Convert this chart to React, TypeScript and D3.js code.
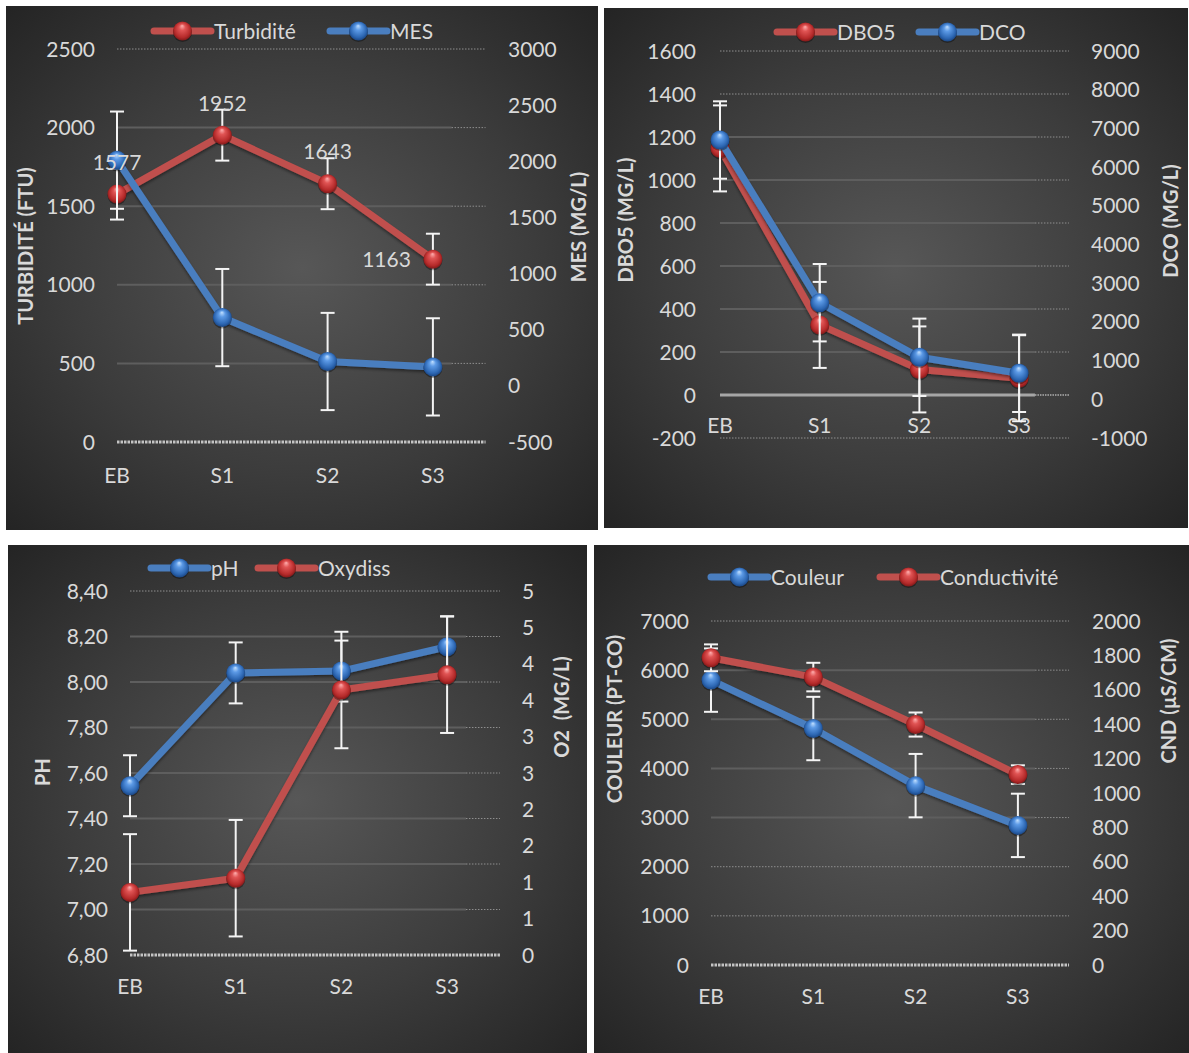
import React from "react";
import * as d3 from "d3";

// Sampling points along the treatment chain
const categories = ["EB", "S1", "S2", "S3"];

// Turbidité (FTU) and MES (mg/L)
const turbidite = [1577, 1952, 1643, 1163];
const turbiditeErr = [162, 162, 162, 162];
const mes = [2010, 608, 217, 169];
const mesErr = [433, 433, 433, 433];
const turbiditeTicks = [0, 500, 1000, 1500, 2000, 2500];
const mesTicks = [-500, 0, 500, 1000, 1500, 2000, 2500, 3000];

// DBO5 and DCO (mg/L)
const dbo5 = [1147, 326, 119, 78];
const dbo5Err = [200, 200, 200, 200];
const dco = [6700, 2496, 1085, 672];
const dcoErr = [1000, 1000, 1000, 1000];
const dbo5Ticks = [-200, 0, 200, 400, 600, 800, 1000, 1200, 1400, 1600];
const dcoTicks = [-1000, 0, 1000, 2000, 3000, 4000, 5000, 6000, 7000, 8000, 9000];

// pH and dissolved oxygen (mg/L)
const ph = [7.544, 8.04, 8.048, 8.155];
const phErr = [0.134, 0.134, 0.134, 0.134];
const oxydiss = [0.86, 1.055, 3.64, 3.85];
const oxydissErr = [0.8, 0.8, 0.8, 0.8];
const phTicks = [6.8, 7.0, 7.2, 7.4, 7.6, 7.8, 8.0, 8.2, 8.4];
const phTickLabels = ["6,80", "7,00", "7,20", "7,40", "7,60", "7,80", "8,00", "8,20", "8,40"];
const oxydissTicks = [0, 0.5, 1, 1.5, 2, 2.5, 3, 3.5, 4, 4.5, 5];
const oxydissTickLabels = ["0", "1", "1", "2", "2", "3", "3", "4", "4", "5", "5"];

// Couleur (Pt-Co) and conductivity (µS/cm)
const couleur = [5797, 4812, 3650, 2841];
const couleurErr = [645, 645, 645, 645];
const conductivite = [1786, 1674, 1398, 1107];
const conductiviteErr = [78, 83, 70, 54];
const couleurTicks = [0, 1000, 2000, 3000, 4000, 5000, 6000, 7000];
const conductiviteTicks = [0, 200, 400, 600, 800, 1000, 1200, 1400, 1600, 1800, 2000];

const FONT = "Lato, 'Open Sans', 'DejaVu Sans', sans-serif";
const TEXT = "#d9d9d9";
const RED = "#c0504d";
const BLUE = "#4a7ebf";

type Tone = "red" | "blue";
type Series = {
  name: string;
  values: number[];
  errors: number[];
  axis: "left" | "right";
  tone: Tone;
  legendX: number;
};
type GridKind = "dotted" | "solid" | "base" | "zero";

type Panel = {
  id: string;
  box: [number, number, number, number];
  plotLeft: number;
  step: number;
  plotTop: number;
  plotBottom: number;
  leftTicks: number[];
  leftLabels: string[];
  rightTicks: number[];
  rightLabels: string[];
  leftTickX: number;
  rightTickX: number;
  leftTitle: { text: string; x: number; y: number };
  rightTitle: { text: string; x: number; y: number };
  catY: number;
  legendY: number;
  grid: GridKind[];
  series: Series[];
  valueLabels?: { series: number; pos: ("above" | "left")[] };
};

const str = (a: number[]) => a.map((v) => String(v));

const panels: Panel[] = [
  {
    id: "p1",
    box: [6, 6, 592, 524],
    plotLeft: 117,
    step: 105.3,
    plotTop: 49,
    plotBottom: 442,
    leftTicks: turbiditeTicks,
    leftLabels: str(turbiditeTicks),
    rightTicks: mesTicks,
    rightLabels: str(mesTicks),
    leftTickX: 95,
    rightTickX: 508,
    leftTitle: { text: "TURBIDITÉ (FTU)", x: 26, y: 246 },
    rightTitle: { text: "MES (MG/L)", x: 579, y: 227 },
    catY: 475,
    legendY: 31,
    grid: ["base", "solid", "solid", "solid", "solid", "dotted"],
    series: [
      { name: "Turbidité", values: turbidite, errors: turbiditeErr, axis: "left", tone: "red", legendX: 154 },
      { name: "MES", values: mes, errors: mesErr, axis: "right", tone: "blue", legendX: 330 },
    ],
    valueLabels: { series: 0, pos: ["above", "above", "above", "left"] },
  },
  {
    id: "p2",
    box: [604, 8, 584, 520],
    plotLeft: 720,
    step: 99.7,
    plotTop: 51,
    plotBottom: 438,
    leftTicks: dbo5Ticks,
    leftLabels: str(dbo5Ticks),
    rightTicks: dcoTicks,
    rightLabels: str(dcoTicks),
    leftTickX: 696,
    rightTickX: 1091,
    leftTitle: { text: "DBO5 (MG/L)", x: 626, y: 220 },
    rightTitle: { text: "DCO (MG/L)", x: 1171, y: 221 },
    catY: 425,
    legendY: 32,
    grid: ["dotted", "zero", "solid", "solid", "solid", "solid", "solid", "solid", "dotted", "dotted"],
    series: [
      { name: "DBO5", values: dbo5, errors: dbo5Err, axis: "left", tone: "red", legendX: 777 },
      { name: "DCO", values: dco, errors: dcoErr, axis: "right", tone: "blue", legendX: 919 },
    ],
  },
  {
    id: "p3",
    box: [8, 545, 579, 508],
    plotLeft: 130,
    step: 105.7,
    plotTop: 591,
    plotBottom: 955,
    leftTicks: phTicks,
    leftLabels: phTickLabels,
    rightTicks: oxydissTicks,
    rightLabels: oxydissTickLabels,
    leftTickX: 108,
    rightTickX: 522,
    leftTitle: { text: "PH", x: 43, y: 772 },
    rightTitle: { text: "O2  (MG/L)", x: 562, y: 707 },
    catY: 986,
    legendY: 568,
    grid: ["base", "solid", "solid", "solid", "solid", "solid", "solid", "solid", "dotted"],
    series: [
      { name: "pH", values: ph, errors: phErr, axis: "left", tone: "blue", legendX: 151 },
      { name: "Oxydiss", values: oxydiss, errors: oxydissErr, axis: "right", tone: "red", legendX: 258 },
    ],
  },
  {
    id: "p4",
    box: [594, 545, 595, 508],
    plotLeft: 711,
    step: 102.3,
    plotTop: 621,
    plotBottom: 965,
    leftTicks: couleurTicks,
    leftLabels: str(couleurTicks),
    rightTicks: conductiviteTicks,
    rightLabels: str(conductiviteTicks),
    leftTickX: 689,
    rightTickX: 1092,
    leftTitle: { text: "COULEUR (PT-CO)", x: 615, y: 719 },
    rightTitle: { text: "CND (µS/CM)", x: 1169, y: 701 },
    catY: 996,
    legendY: 577,
    grid: ["base", "dotted", "dotted", "solid", "solid", "solid", "solid", "dotted"],
    series: [
      { name: "Couleur", values: couleur, errors: couleurErr, axis: "left", tone: "blue", legendX: 711 },
      { name: "Conductivité", values: conductivite, errors: conductiviteErr, axis: "right", tone: "red", legendX: 880 },
    ],
  },
];

const FS = 21;
// baseline offset so that digits/capitals are visually centred on a given y
const mid = (y: number, fs = FS) => y + fs * 0.36;

function Ball({ x, y, tone }: { x: number; y: number; tone: Tone }) {
  return (
    <g>
      <circle cx={x} cy={y + 1.5} r={9.5} fill="#000" opacity={0.35} />
      <circle cx={x} cy={y} r={9.5} fill={`url(#ball-${tone})`} />
    </g>
  );
}

function ChartPanel({ p }: { p: Panel }) {
  const [bx, by, bw, bh] = p.box;
  const plotRight = p.plotLeft + 3.5 * p.step;
  const x = d3
    .scalePoint<string>()
    .domain(categories)
    .range([p.plotLeft, p.plotLeft + 3 * p.step]);
  const yL = d3
    .scaleLinear()
    .domain([p.leftTicks[0], p.leftTicks[p.leftTicks.length - 1]])
    .range([p.plotBottom, p.plotTop]);
  const yR = d3
    .scaleLinear()
    .domain([p.rightTicks[0], p.rightTicks[p.rightTicks.length - 1]])
    .range([p.plotBottom, p.plotTop]);
  const solidEnd = plotRight - 34;

  const line = d3
    .line<[number, number]>()
    .x((d) => d[0])
    .y((d) => d[1]);

  return (
    <g>
      <rect x={bx} y={by} width={bw} height={bh} fill="url(#panel-bg)" />

      {/* gridlines */}
      {p.leftTicks.map((t, i) => {
        const yy = yL(t);
        const kind = p.grid[i];
        if (kind === "dotted")
          return (
            <line key={i} x1={p.plotLeft} x2={plotRight} y1={yy} y2={yy} stroke="#8f8f8f" strokeWidth={1} strokeDasharray="1.5 1.5" />
          );
        if (kind === "base")
          return (
            <line key={i} x1={p.plotLeft} x2={plotRight} y1={yy} y2={yy} stroke="#c4c4c4" strokeWidth={3} strokeDasharray="2.5 1" />
          );
        if (kind === "zero")
          return (
            <g key={i}>
              <line x1={p.plotLeft} x2={solidEnd} y1={yy} y2={yy} stroke="#a6a6a6" strokeWidth={3} />
              <line x1={solidEnd} x2={plotRight} y1={yy} y2={yy} stroke="#b0b0b0" strokeWidth={1.5} strokeDasharray="1.5 1" />
            </g>
          );
        return (
          <g key={i}>
            <line x1={p.plotLeft} x2={solidEnd} y1={yy} y2={yy} stroke="#5e5e5e" strokeWidth={2} />
            <line x1={solidEnd} x2={plotRight} y1={yy} y2={yy} stroke="#8f8f8f" strokeWidth={1} strokeDasharray="1.5 1.5" />
          </g>
        );
      })}

      {/* left axis labels */}
      {p.leftTicks.map((t, i) => (
        <text key={"l" + i} x={p.leftTickX} y={mid(yL(t))} textAnchor="end" fontSize={FS} fill={TEXT} fontFamily={FONT}>
          {p.leftLabels[i]}
        </text>
      ))}
      {/* right axis labels */}
      {p.rightTicks.map((t, i) => (
        <text key={"r" + i} x={p.rightTickX} y={mid(yR(t))} textAnchor="start" fontSize={FS} fill={TEXT} fontFamily={FONT}>
          {p.rightLabels[i]}
        </text>
      ))}
      {/* category labels */}
      {categories.map((c) => (
        <text key={c} x={x(c)} y={mid(p.catY)} textAnchor="middle" fontSize={FS} fill={TEXT} fontFamily={FONT}>
          {c}
        </text>
      ))}

      {/* axis titles */}
      {[p.leftTitle, p.rightTitle].map((t, i) => (
        <text
          key={"t" + i}
          transform={`translate(${t.x},${t.y}) rotate(-90)`}
          y={20 * 0.36}
          textAnchor="middle"
          fontSize={20}
          fontWeight={700}
          fill={TEXT}
          fontFamily={FONT}
          style={{ whiteSpace: "pre" }}
        >
          {t.text}
        </text>
      ))}

      {/* series: error bars, line, markers */}
      {p.series.map((s) => {
        const y = s.axis === "left" ? yL : yR;
        const pts: [number, number][] = s.values.map((v, i) => [x(categories[i]) as number, y(v)]);
        const col = s.tone === "red" ? RED : BLUE;
        return (
          <g key={s.name}>
            {s.values.map((v, i) => {
              const cx = x(categories[i]) as number;
              const y1 = y(v + s.errors[i]);
              const y2 = y(v - s.errors[i]);
              return (
                <g key={i} stroke="#f4f4f4" strokeWidth={2}>
                  <line x1={cx} x2={cx} y1={y1} y2={y2} />
                  <line x1={cx - 7} x2={cx + 7} y1={y1} y2={y1} />
                  <line x1={cx - 7} x2={cx + 7} y1={y2} y2={y2} />
                </g>
              );
            })}
            <path d={line(pts) ?? ""} fill="none" stroke={col} strokeWidth={7} strokeLinejoin="round" filter="url(#soft-shadow)" />
            {pts.map((pt, i) => (
              <Ball key={i} x={pt[0]} y={pt[1]} tone={s.tone} />
            ))}
          </g>
        );
      })}

      {/* value labels */}
      {p.valueLabels &&
        p.series[p.valueLabels.series].values.map((v, i) => {
          const s = p.series[p.valueLabels!.series];
          const y = s.axis === "left" ? yL : yR;
          const cx = x(categories[i]) as number;
          const cy = y(v);
          const pos = p.valueLabels!.pos[i];
          return pos === "above" ? (
            <text key={"v" + i} x={cx} y={mid(cy - 32)} textAnchor="middle" fontSize={FS} fill={TEXT} fontFamily={FONT}>
              {String(v)}
            </text>
          ) : (
            <text key={"v" + i} x={cx - 22} y={mid(cy)} textAnchor="end" fontSize={FS} fill={TEXT} fontFamily={FONT}>
              {String(v)}
            </text>
          );
        })}

      {/* legend */}
      {p.series.map((s) => {
        const col = s.tone === "red" ? RED : BLUE;
        return (
          <g key={"lg" + s.name}>
            <line x1={s.legendX} x2={s.legendX + 57} y1={p.legendY} y2={p.legendY} stroke={col} strokeWidth={7} strokeLinecap="round" />
            <Ball x={s.legendX + 28.5} y={p.legendY} tone={s.tone} />
            <text x={s.legendX + 60} y={mid(p.legendY)} fontSize={FS} fill={TEXT} fontFamily={FONT}>
              {s.name}
            </text>
          </g>
        );
      })}
    </g>
  );
}

export default function App() {
  return (
    <svg
      width={1189}
      height={1053}
      viewBox="0 0 1189 1053"
      style={{ position: "absolute", left: 0, top: 0, background: "#ffffff" }}
    >
      <defs>
        <radialGradient id="panel-bg" cx="0.5" cy="0.5" r="0.72">
          <stop offset="0" stopColor="#575757" />
          <stop offset="0.55" stopColor="#3c3c3c" />
          <stop offset="1" stopColor="#232323" />
        </radialGradient>
        <radialGradient id="ball-red" cx="0.5" cy="0.5" r="0.55" fx="0.48" fy="0.22">
          <stop offset="0" stopColor="#ffb0b0" />
          <stop offset="0.3" stopColor="#e05454" />
          <stop offset="0.75" stopColor="#b52a2a" />
          <stop offset="1" stopColor="#701414" />
        </radialGradient>
        <radialGradient id="ball-blue" cx="0.5" cy="0.5" r="0.55" fx="0.48" fy="0.22">
          <stop offset="0" stopColor="#c2e0ff" />
          <stop offset="0.3" stopColor="#5c9ae6" />
          <stop offset="0.75" stopColor="#2c66b2" />
          <stop offset="1" stopColor="#163c74" />
        </radialGradient>
        <filter id="soft-shadow" x="-10%" y="-10%" width="120%" height="130%">
          <feDropShadow dx="0" dy="2" stdDeviation="1.5" floodColor="#000" floodOpacity="0.45" />
        </filter>
      </defs>
      {panels.map((p) => (
        <ChartPanel key={p.id} p={p} />
      ))}
    </svg>
  );
}
